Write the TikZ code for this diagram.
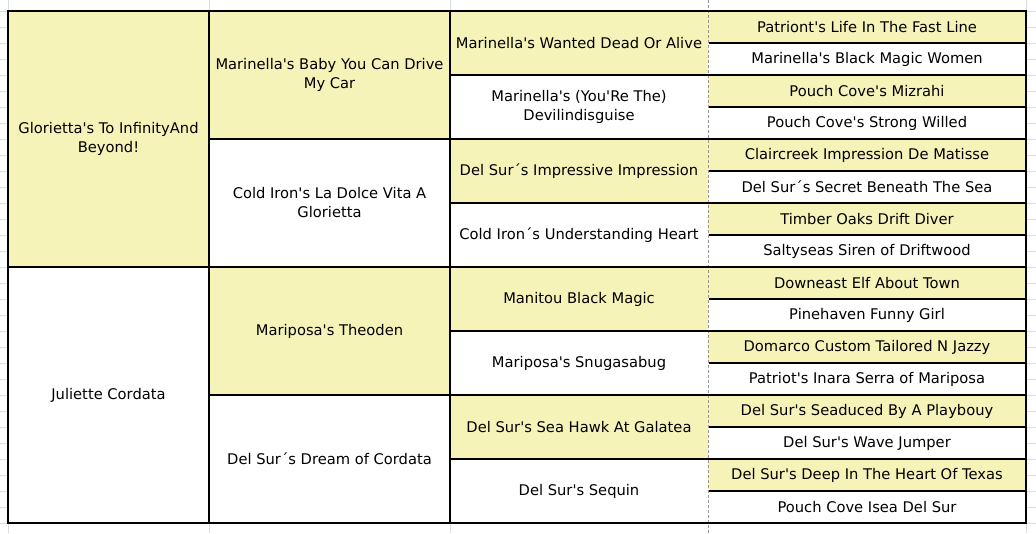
\documentclass[tikz,border=0pt]{standalone}
\usepackage{fontspec}
\setmainfont{DejaVu Sans}[Ligatures=TeXOff]
\definecolor{cellyellow}{RGB}{246,243,184}
\definecolor{gridgrey}{RGB}{218,220,222}
\definecolor{breakgrey}{RGB}{150,150,150}
\begin{document}
\begin{tikzpicture}[x=1pt,y=-1pt,
  cellbase/.style={anchor=north west, inner sep=0pt, outer sep=0pt, align=center,
    font=\fontsize{14.7}{19}\selectfont, text=black},
  yel/.style={cellbase, fill=cellyellow},
  wht/.style={cellbase, fill=white},
  c1/.style={minimum width=201pt, minimum height=256pt},
  c2/.style={minimum width=241pt, minimum height=128pt},
  c3/.style={minimum width=258pt, minimum height=64pt},
  c4/.style={minimum width=318pt, minimum height=32pt},
  rule/.style={draw=black, line width=1.2pt},
  grid/.style={draw=gridgrey, line width=0.9pt},
  pagebreak/.style={draw=breakgrey, line width=1pt, dash pattern=on 3pt off 2pt}
]
\useasboundingbox (0,0) rectangle (1036,533);
% spreadsheet gridlines in the margins
\foreach \yy in {11,27,...,523} {
  \draw[grid] (0,\yy) -- (8,\yy);
  \draw[grid] (1026,\yy) -- (1036,\yy);
}
\foreach \xx in {8,209,450,1026} {
  \draw[grid] (\xx,0) -- (\xx,11);
  \draw[grid] (\xx,523) -- (\xx,533);
}
% generation 1
\node[yel,c1] (p1) at (8,11) {Glorietta's To InfinityAnd\\Beyond!};
\node[wht,c1] (p2) at (8,267) {Juliette Cordata};
% generation 2
\node[yel,c2] (q1) at (209,11) {Marinella's Baby You Can Drive\\My Car};
\node[wht,c2] (q2) at (209,139) {Cold Iron's La Dolce Vita A\\Glorietta};
\node[yel,c2] (q3) at (209,267) {Mariposa's Theoden};
\node[wht,c2] (q4) at (209,395) {Del Sur´s Dream of Cordata};
% generation 3
\node[yel,c3] (r1) at (450,11) {Marinella's Wanted Dead Or Alive};
\node[wht,c3] (r2) at (450,75) {Marinella's (You'Re The)\\Devilindisguise};
\node[yel,c3] (r3) at (450,139) {Del Sur´s Impressive Impression};
\node[wht,c3] (r4) at (450,203) {Cold Iron´s Understanding Heart};
\node[yel,c3] (r5) at (450,267) {Manitou Black Magic};
\node[wht,c3] (r6) at (450,331) {Mariposa's Snugasabug};
\node[yel,c3] (r7) at (450,395) {Del Sur's Sea Hawk At Galatea};
\node[wht,c3] (r8) at (450,459) {Del Sur's Sequin};
% generation 4
\node[yel,c4] (s1) at (708,11) {Patriont's Life In The Fast Line};
\node[wht,c4] (s2) at (708,43) {Marinella's Black Magic Women};
\node[yel,c4] (s3) at (708,75) {Pouch Cove's Mizrahi};
\node[wht,c4] (s4) at (708,107) {Pouch Cove's Strong Willed};
\node[yel,c4] (s5) at (708,139) {Claircreek Impression De Matisse};
\node[wht,c4] (s6) at (708,171) {Del Sur´s Secret Beneath The Sea};
\node[yel,c4] (s7) at (708,203) {Timber Oaks Drift Diver};
\node[wht,c4] (s8) at (708,235) {Saltyseas Siren of Driftwood};
\node[yel,c4] (s9) at (708,267) {Downeast Elf About Town};
\node[wht,c4] (s10) at (708,299) {Pinehaven Funny Girl};
\node[yel,c4] (s11) at (708,331) {Domarco Custom Tailored N Jazzy};
\node[wht,c4] (s12) at (708,363) {Patriot's Inara Serra of Mariposa};
\node[yel,c4] (s13) at (708,395) {Del Sur's Seaduced By A Playbouy};
\node[wht,c4] (s14) at (708,427) {Del Sur's Wave Jumper};
\node[yel,c4] (s15) at (708,459) {Del Sur's Deep In The Heart Of Texas};
\node[wht,c4] (s16) at (708,491) {Pouch Cove Isea Del Sur};
% page break line
\draw[pagebreak] (708,0) -- (708,533);
% cell borders
\draw[rule] (p1.north east) -- (p2.south east);
\draw[rule] (q1.north east) -- (q4.south east);
\draw[rule] (p1.south west) -- (s8.south east);
\draw[rule] (q1.south west) -- (s4.south east);
\draw[rule] (q3.south west) -- (s12.south east);
\foreach \r in {r1,r3,r5,r7} \draw[rule] (\r.south west) -- (\r.south east);
\foreach \s in {s2,s6,s10,s14} \draw[rule] (\s.south west) -- (\s.south east);
\foreach \s in {s1,s3,s5,s7,s9,s11,s13,s15} \draw[rule] ([xshift=0.6pt]\s.south west) -- (\s.south east);
\draw[rule] (p1.north west) -- (s1.north east) -- (s16.south east) -- (p2.south west) -- cycle;
\end{tikzpicture}
\end{document}
